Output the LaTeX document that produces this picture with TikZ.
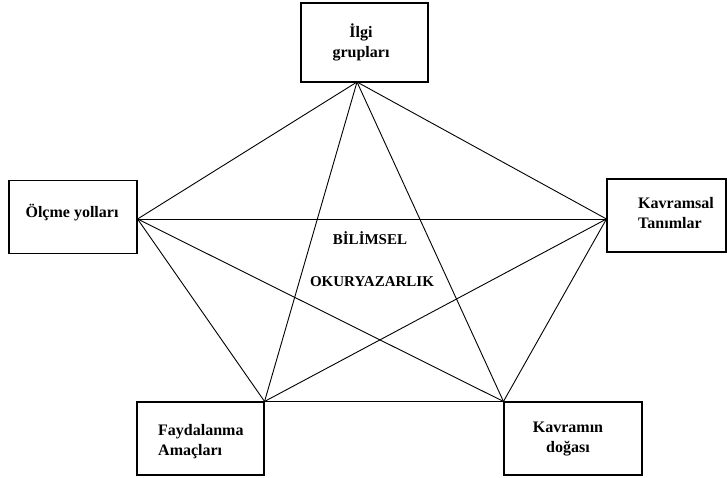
\documentclass[tikz,border=0pt]{standalone}
\usepackage{fontspec}
\setmainfont{Liberation Serif}
\begin{document}
\begin{tikzpicture}[x=1pt,y=-1pt,
  box/.style={draw,line width=1.1pt,minimum width=#1,inner sep=0pt},
  lbl/.style={font=\fontsize{16}{20}\selectfont\bfseries,inner sep=0pt,align=center},
  lbll/.style={font=\fontsize{16}{20}\selectfont\bfseries,inner sep=0pt,align=left},
  ctr/.style={font=\fontsize{15}{18}\selectfont\bfseries,inner sep=0pt},
  edge/.style={line width=0.9pt}]
\useasboundingbox (0,0) rectangle (727,478);
% boxes
\node[box=127pt,minimum height=79pt] (top) at (364.5,42.5) {};
\node[box=128pt,minimum height=73pt] (left) at (73,217) {};
\node[box=119pt,minimum height=73pt] (right) at (666.5,215.5) {};
\node[box=127pt,minimum height=73pt] (bl) at (200.5,438.5) {};
\node[box=138pt,minimum height=73pt] (br) at (573,438.5) {};
% texts
\node[lbl] (ttop) at (361,42) {İlgi\\grupları};
\node[lbl] (tleft) at (72,213) {Ölçme yolları};
\node[lbll,anchor=west] (tright) at (638,213) {Kavramsal\\Tanımlar};
\node[lbll,anchor=west] (tbl) at (158,441.5) {Faydalanma\\Amaçları};
\node[lbl] (tbr) at (568,439.5) {Kavramın\\doğası};
\node[ctr] (c1) at (370,238) {BİLİMSEL};
\node[ctr] (c2) at (372,282) {OKURYAZARLIK};
% connection points
\coordinate (pT) at (357,82);
\coordinate (pL) at (left.east |- 0,219);
\coordinate (pR) at (right.west |- 0,219);
\coordinate (pBL) at (bl.north east);
\coordinate (pBR) at (br.north west);
% connectors
\draw[edge] (pT) -- (pL);
\draw[edge] (pT) -- (pR);
\draw[edge] (pT) -- (pBL);
\draw[edge] (pT) -- (pBR);
\draw[edge] (pL) -- (pR);
\draw[edge] (pL) -- (pBL);
\draw[edge] (pL) -- (pBR);
\draw[edge] (pR) -- (pBL);
\draw[edge] (pR) -- (pBR);
\draw[edge] (pBL) -- (pBR);
\end{tikzpicture}
\end{document}
